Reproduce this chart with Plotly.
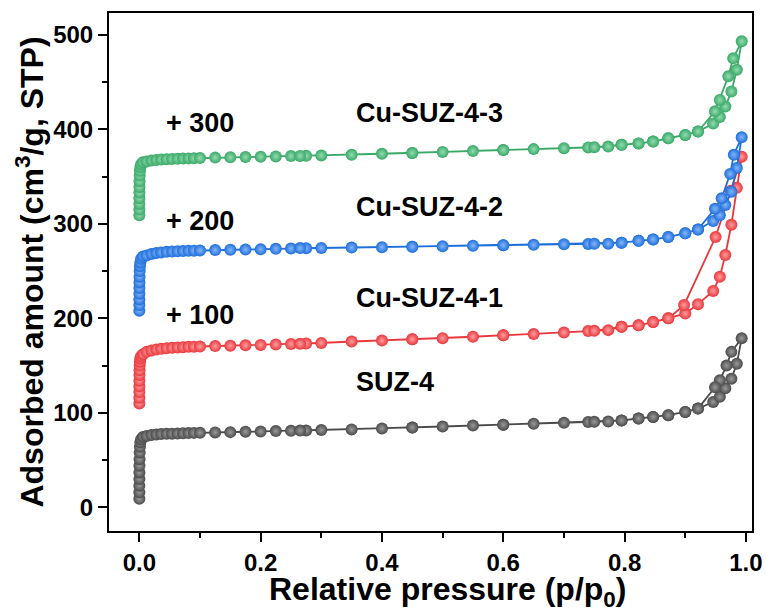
import plotly.graph_objects as go

# ---------------- data ----------------
# shared adsorption relative-pressure grid
p_ads = [0.00001, 0.00002, 0.00004, 0.00007, 0.00012, 0.0002, 0.00035, 0.0006, 0.001, 0.0017, 0.003, 0.006,
         0.012, 0.02, 0.028, 0.036, 0.045, 0.054, 0.063, 0.072, 0.081, 0.09, 0.1,
         0.125, 0.15, 0.175, 0.2, 0.225, 0.25, 0.275, 0.3,
         0.35, 0.4, 0.45, 0.5, 0.55, 0.6, 0.65, 0.7,
         0.74, 0.773, 0.795, 0.823, 0.847, 0.872, 0.9, 0.921, 0.946, 0.957, 0.966, 0.976, 0.985, 0.993]

names = ["SUZ-4", "Cu-SUZ-4-1", "Cu-SUZ-4-2", "Cu-SUZ-4-3"]
offsets = [0, 100, 200, 300]
offset_labels = ["", "+ 100", "+ 200", "+ 300"]
colors = ["#4b4b4b", "#e8383d", "#1e6fdc", "#3aa968"]
highlights = ["#9a9a9a", "#ff9ea0", "#86b6f7", "#93dcb0"]

# adsorption branches (raw values, before offset)
ads_suz4 = [9, 16, 23, 30, 37, 44, 51, 58, 64, 69, 72, 74.5,
            75.5, 76.5, 77, 77.5, 77.8, 78, 78.2, 78.4, 78.6, 78.8, 79,
            79.3, 79.6, 80, 80.3, 80.7, 81, 81.4, 81.8,
            82.5, 83.5, 84.5, 85.5, 86.5, 87.5, 88.5, 89.5,
            90.3, 90.8, 92, 94, 95.7, 97.5, 101, 104.5, 111.5, 117, 126, 136, 152, 179]
ads_cu1 = [10, 16, 22, 28, 34, 40, 45, 50, 54, 57.5, 60, 62,
           64.5, 66, 67, 67.7, 68.3, 68.8, 69.2, 69.5, 69.8, 70, 70.2,
           70.6, 71, 71.4, 71.8, 72.3, 72.8, 73.4, 74,
           75.5, 76.5, 77.8, 79, 80.5, 82, 83.5, 85,
           86.5, 87.5, 91, 92.6, 96, 100, 105, 115, 129, 144, 167, 199, 238, 271]
ads_cu2 = [8, 14, 20, 26, 32, 38, 44, 50, 55, 59, 63, 65.5,
           66.5, 68, 69, 69.7, 70.3, 70.7, 71, 71.2, 71.4, 71.6, 71.8,
           72.2, 72.5, 72.8, 73.1, 73.5, 73.9, 74.2, 74.5,
           74.8, 75.3, 75.8, 76.3, 76.8, 77.3, 77.8, 78.3,
           78.7, 79, 80, 82, 83.5, 86, 90, 94, 103, 109, 120, 134, 159, 191.6]
ads_cu3 = [9, 15, 21, 27, 33, 39, 45, 51, 56, 60, 63, 65,
           66, 67, 67.5, 68, 68.3, 68.6, 68.8, 69, 69.2, 69.4, 69.6,
           70, 70.3, 70.6, 71, 71.3, 71.6, 72, 72.3,
           73, 74, 75, 76, 77, 78, 79, 80,
           80.8, 81.7, 83.5, 85, 87, 90.5, 94, 97.6, 106, 113, 124, 140, 163, 193]

# desorption branches (hysteresis part, then back along the adsorption curve)
p_des_suz4 = [0.976, 0.968, 0.957, 0.949, 0.921, 0.9, 0.872, 0.847, 0.823, 0.795, 0.75, 0.6, 0.45, 0.265]
des_suz4 = [164.5, 150, 134.5, 127, 104.5, 101, 97.5, 95.7, 94, 92, 90.5, 87.5, 84.5, 81.2]
p_des_cu1 = [0.975, 0.95, 0.898, 0.872, 0.847, 0.823, 0.795, 0.75, 0.6, 0.45, 0.265]
des_cu1 = [235, 186, 114, 100, 96, 92.6, 91, 86.8, 82, 77.8, 73.1]
p_des_cu2 = [0.98, 0.974, 0.96, 0.949, 0.921, 0.9, 0.872, 0.847, 0.823, 0.795, 0.75, 0.6, 0.45, 0.265]
des_cu2 = [173, 152.8, 127, 116, 94, 90, 86, 83.5, 82, 80, 78.8, 77.3, 75.8, 74.3]
p_des_cu3 = [0.979, 0.971, 0.957, 0.949, 0.921, 0.9, 0.872, 0.847, 0.823, 0.795, 0.75, 0.6, 0.45, 0.265]
des_cu3 = [175, 156, 131, 119, 97.6, 94, 90.5, 87, 85, 83.5, 81, 78, 75, 71.8]

ads_all = [ads_suz4, ads_cu1, ads_cu2, ads_cu3]
p_des_all = [p_des_suz4, p_des_cu1, p_des_cu2, p_des_cu3]
des_all = [des_suz4, des_cu1, des_cu2, des_cu3]

# label positions (data coordinates)
name_label_y = [133, 222, 318, 417]
offset_label_y = [None, 203, 303, 407]

x_ticks = [0.0, 0.2, 0.4, 0.6, 0.8, 1.0]
y_ticks = [0, 100, 200, 300, 400, 500]

# ---------------- figure ----------------
FONT = "Liberation Sans, Arial, sans-serif"
fig = go.Figure()

for i in range(4):
    xs = p_ads + p_des_all[i]
    ys = [v + offsets[i] for v in ads_all[i]] + [v + offsets[i] for v in des_all[i]]
    fig.add_trace(go.Scatter(
        x=xs, y=ys, mode="lines+markers", name=names[i],
        line=dict(color=colors[i], width=1.8),
        marker=dict(size=12, color=colors[i], line=dict(width=0),
                    gradient=dict(type="radial", color=highlights[i])),
        showlegend=False,
    ))

for i in range(4):
    fig.add_annotation(x=0.354, y=name_label_y[i], text=names[i], showarrow=False,
                       xanchor="left", yanchor="middle",
                       font=dict(family=FONT, size=27, color="black", weight="bold"))
    if offset_label_y[i] is not None:
        fig.add_annotation(x=0.04, y=offset_label_y[i], text=offset_labels[i], showarrow=False,
                           xanchor="left", yanchor="middle",
                           font=dict(family=FONT, size=27, color="black", weight="bold"))

# x-axis title (placed as a paper annotation so it sits where the reference has it)
fig.add_annotation(xref="paper", yref="paper", x=0.526, y=-0.117,
                   text="Relative pressure (p/p<sub>0</sub>)", showarrow=False,
                   xanchor="center", yanchor="middle",
                   font=dict(family=FONT, size=32, color="black", weight="bold"))

axis_common = dict(showline=True, linecolor="black", linewidth=2, mirror=True,
                   ticks="outside", ticklen=9, tickwidth=2, tickcolor="black",
                   showgrid=False, zeroline=False, automargin=False,
                   ticklabeloverflow="allow",
                   tickfont=dict(family=FONT, size=24, color="black", weight="bold"))

fig.update_xaxes(range=[-0.05, 1.01], tickvals=x_ticks,
                 ticktext=[f"{t:.1f}" for t in x_ticks],
                 minor=dict(dtick=0.1, tick0=0, ticks="outside", ticklen=5, tickwidth=2, tickcolor="black"),
                 **axis_common)
fig.update_yaxes(range=[-25, 523], tickvals=y_ticks,
                 minor=dict(dtick=50, tick0=0, ticks="outside", ticklen=5, tickwidth=2, tickcolor="black"),
                 title=dict(text="Adsorbed amount (cm<sup>3</sup>/g, STP)", standoff=0,
                            font=dict(family=FONT, size=32, color="black", weight="bold")),
                 **axis_common)

fig.update_layout(width=766, height=612, margin=dict(l=109, r=14, t=13, b=81),
                  plot_bgcolor="white", paper_bgcolor="white")

# remove the default page margin so the 766x612 figure fills the window exactly
fig.write_html("out.html", config={"displayModeBar": False},
               post_script="document.body.style.margin='0';document.body.style.overflow='hidden';")
